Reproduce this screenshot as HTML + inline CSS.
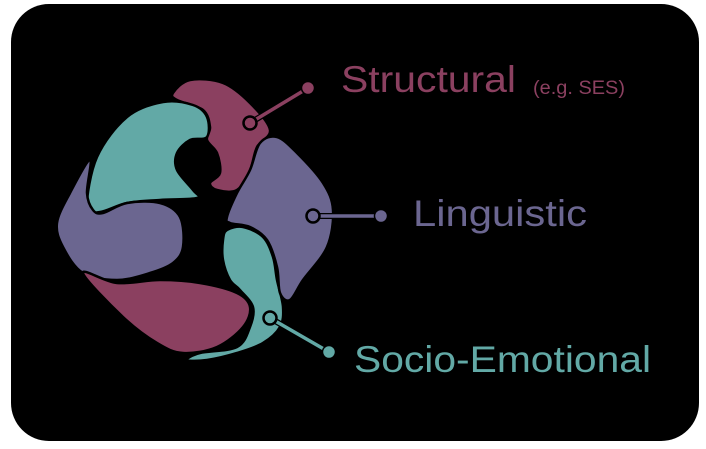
<!DOCTYPE html>
<html><head><meta charset="utf-8"><style>
html,body{margin:0;padding:0;background:#fff;width:706px;height:449px;overflow:hidden}
svg{display:block}
text{font-family:"Liberation Sans","DejaVu Sans",sans-serif}
</style></head><body>
<svg id="s" width="706" height="449" viewBox="0 0 706 449">
<rect x="11" y="4" width="688" height="437" rx="38" fill="#000"/>
<g id="shapes" stroke="#000" stroke-width="2.5" stroke-linejoin="round"></g>
<g stroke-linecap="round">
<line x1="250" y1="123" x2="308" y2="88" stroke="#000" stroke-width="6"/>
<line x1="250" y1="123" x2="308" y2="88" stroke="#8b4060" stroke-width="3.5"/>
<circle cx="308" cy="88" r="6.5" fill="#8b4060" stroke="#000" stroke-width="1.5"/>
<circle cx="250" cy="123" r="6.5" fill="#8b4060" stroke="#000" stroke-width="2.5"/>
<line x1="313" y1="216" x2="381" y2="216" stroke="#000" stroke-width="6"/>
<line x1="313" y1="216" x2="381" y2="216" stroke="#6b6690" stroke-width="3.5"/>
<circle cx="381" cy="216" r="6.5" fill="#6b6690" stroke="#000" stroke-width="1.5"/>
<circle cx="313" cy="216" r="6.5" fill="#6b6690" stroke="#000" stroke-width="2.5"/>
<line x1="270" y1="318" x2="329" y2="352" stroke="#000" stroke-width="6"/>
<line x1="270" y1="318" x2="329" y2="352" stroke="#62a9a6" stroke-width="3.5"/>
<circle cx="329" cy="352" r="6.5" fill="#62a9a6" stroke="#000" stroke-width="1.5"/>
<circle cx="270" cy="318" r="6.5" fill="#62a9a6" stroke="#000" stroke-width="2.5"/>
</g>
<text x="341" y="92" font-size="37" fill="#8b4060" textLength="175" lengthAdjust="spacingAndGlyphs">Structural</text>
<text x="533" y="94" font-size="19" fill="#8b4060" textLength="92" lengthAdjust="spacingAndGlyphs">(e.g. SES)</text>
<text x="413" y="226" font-size="37" fill="#6b6690" textLength="174" lengthAdjust="spacingAndGlyphs">Linguistic</text>
<text x="354" y="372" font-size="37" fill="#62a9a6" textLength="297" lengthAdjust="spacingAndGlyphs">Socio-Emotional</text>
</svg>
<script>
var shapes=[
["#8b4060",[[173,93],[190,80],[223,83],[250,103],[270,130],[257,147],[250,170],[237,190],[217,190],[210,183],[220,173],[217,153],[207,140],[210,127],[203,110],[177,100]]],
["#62a9a6",[[87,207],[97,157],[127,117],[163,102],[193,105],[207,117],[207,137],[190,140],[177,153],[177,170],[193,190],[197,198],[160,200],[127,203],[100,212]]],
["#6b6690",[[57,223],[70,193],[90,160],[87,193],[93,210],[103,213],[127,203],[160,203],[180,217],[183,247],[173,263],[150,273],[117,280],[83,273],[63,247]]],
["#8b4060",[[83,273],[117,283],[160,280],[200,283],[237,293],[250,307],[243,327],[217,347],[183,353],[157,343],[123,317]]],
["#62a9a6",[[227,230],[243,227],[263,237],[273,257],[277,280],[283,307],[280,327],[263,343],[237,353],[207,360],[187,360],[200,353],[237,347],[250,327],[253,307],[240,290],[230,280],[223,260],[223,240]]],
["#6b6690",[[227,217],[237,193],[250,170],[260,143],[277,137],[297,153],[323,183],[333,210],[327,247],[303,280],[290,300],[280,293],[277,267],[267,240],[250,227],[230,223]]]
];
var g=document.getElementById('shapes'),ns='http://www.w3.org/2000/svg';
shapes.forEach(function(s){
 var p=s[1],n=p.length,d='M'+p[0][0]+','+p[0][1];
 for(var i=0;i<n;i++){
  var p0=p[(i-1+n)%n],p1=p[i],p2=p[(i+1)%n],p3=p[(i+2)%n];
  var c1x=p1[0]+(p2[0]-p0[0])/6,c1y=p1[1]+(p2[1]-p0[1])/6;
  var c2x=p2[0]-(p3[0]-p1[0])/6,c2y=p2[1]-(p3[1]-p1[1])/6;
  d+='C'+c1x+','+c1y+' '+c2x+','+c2y+' '+p2[0]+','+p2[1];
 }
 var e=document.createElementNS(ns,'path');
 e.setAttribute('d',d+'Z');e.setAttribute('fill',s[0]);g.appendChild(e);
});
</script>
</body></html>
